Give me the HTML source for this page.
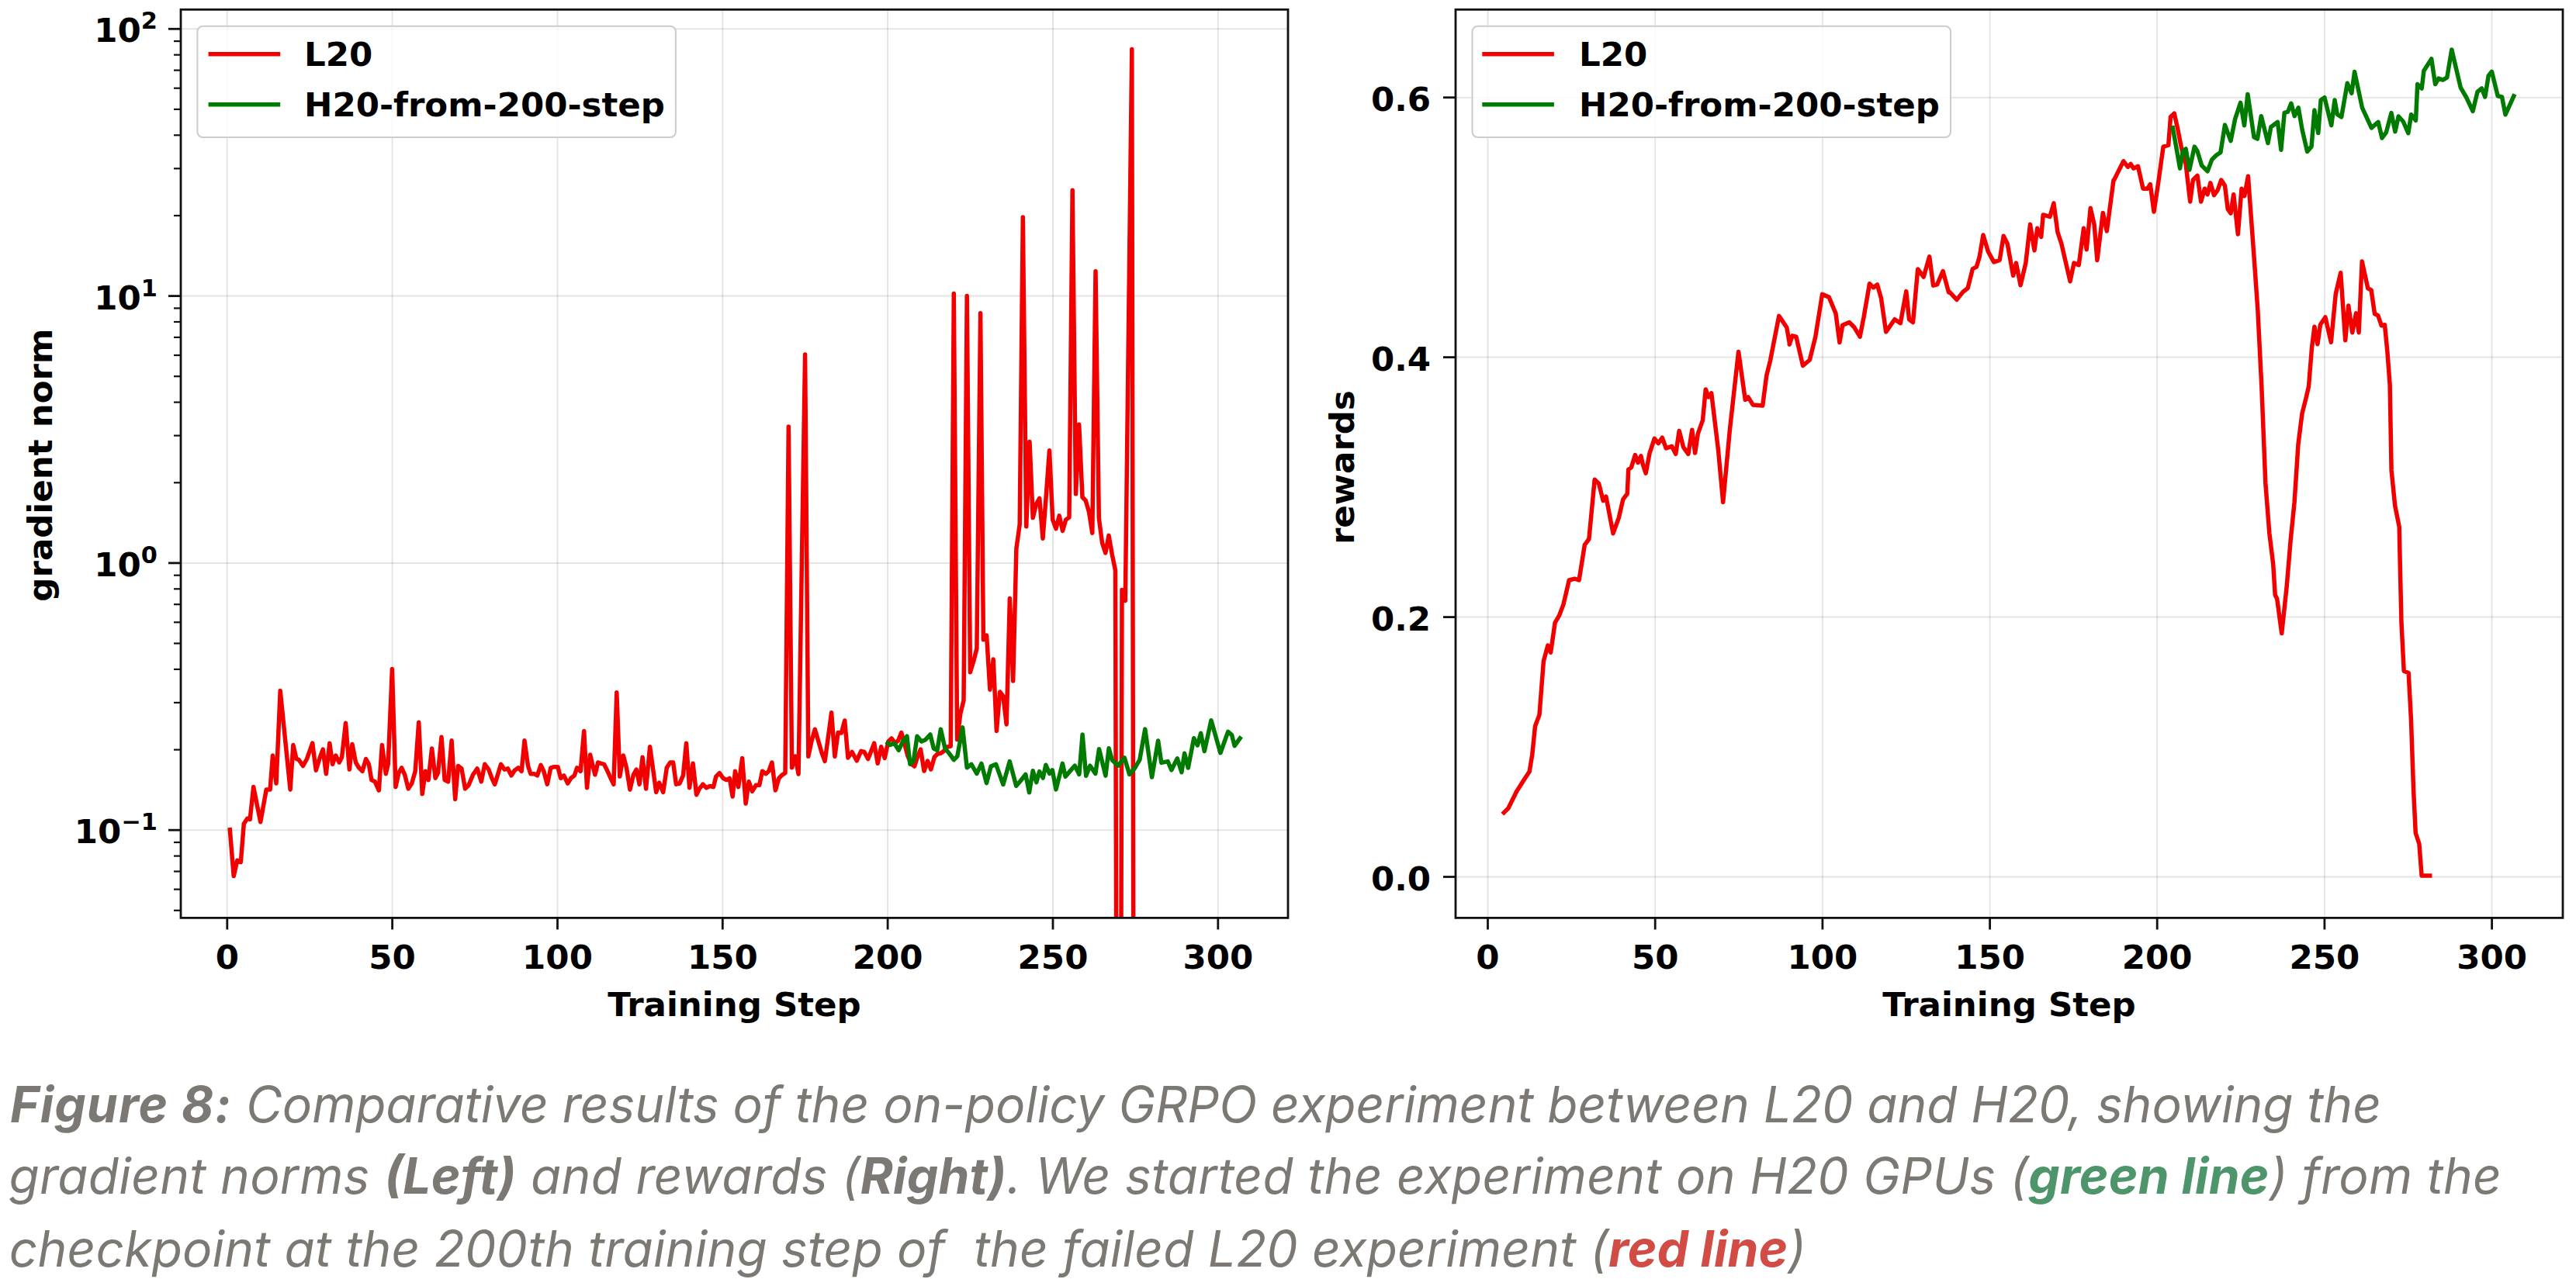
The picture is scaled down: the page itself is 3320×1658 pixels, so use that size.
<!DOCTYPE html>
<html><head><meta charset="utf-8"><title>Figure 8</title>
<style>html,body{margin:0;padding:0;background:#fff;}body{width:3320px;height:1658px;overflow:hidden;position:relative;}</style>
</head><body>
<svg width="3320" height="1658" viewBox="0 0 3320 1658" style="position:absolute;left:0;top:0"><defs><clipPath id="cl"><rect x="233.0" y="12.3" width="1427.0" height="1171.1000000000001"/></clipPath><clipPath id="cr"><rect x="1876.0" y="12.3" width="1427.0" height="1171.1000000000001"/></clipPath></defs><g stroke="#000" stroke-opacity="0.1" stroke-width="2"><line x1="292.8" y1="12.3" x2="292.8" y2="1183.4"/><line x1="1917.5" y1="12.3" x2="1917.5" y2="1183.4"/><line x1="505.6" y1="12.3" x2="505.6" y2="1183.4"/><line x1="2133.2" y1="12.3" x2="2133.2" y2="1183.4"/><line x1="718.5" y1="12.3" x2="718.5" y2="1183.4"/><line x1="2348.9" y1="12.3" x2="2348.9" y2="1183.4"/><line x1="931.3" y1="12.3" x2="931.3" y2="1183.4"/><line x1="2564.6" y1="12.3" x2="2564.6" y2="1183.4"/><line x1="1144.1" y1="12.3" x2="1144.1" y2="1183.4"/><line x1="2780.2" y1="12.3" x2="2780.2" y2="1183.4"/><line x1="1357" y1="12.3" x2="1357" y2="1183.4"/><line x1="2995.9" y1="12.3" x2="2995.9" y2="1183.4"/><line x1="1569.8" y1="12.3" x2="1569.8" y2="1183.4"/><line x1="3211.6" y1="12.3" x2="3211.6" y2="1183.4"/><line x1="233.0" y1="37.3" x2="1660.0" y2="37.3"/><line x1="233.0" y1="381.6" x2="1660.0" y2="381.6"/><line x1="233.0" y1="725.9" x2="1660.0" y2="725.9"/><line x1="233.0" y1="1070.2" x2="1660.0" y2="1070.2"/><line x1="1876.0" y1="1130.5" x2="3303.0" y2="1130.5"/><line x1="1876.0" y1="795.6" x2="3303.0" y2="795.6"/><line x1="1876.0" y1="460.6" x2="3303.0" y2="460.6"/><line x1="1876.0" y1="125.7" x2="3303.0" y2="125.7"/></g><polyline points="296.3,1069.8 301.2,1129.6 305.7,1109.3 310.3,1111.6 314.3,1062 318.8,1055.2 322.2,1056.3 326.7,1014.6 335.7,1059.7 343.2,1018 348.1,1018 351.5,974 356,1010.1 361.2,890.6 374.1,1018 377.9,960.5 382,978.5 385.3,979.7 390.5,987.5 395.5,978.5 402.7,958.2 407.2,993.2 412.4,976.3 416.2,966.1 420.3,997.7 424.8,958.2 428.6,985.3 432.7,974 437.2,983 440.6,976.3 445.5,932.3 450.3,992.1 454,959.4 458.5,983 462.6,989.8 467.1,994.3 471.6,978.5 475.4,985.3 478.8,1005.6 483.3,1007.8 488.3,1019.1 492.4,960.5 497.3,997.7 500.2,985.3 505.4,862.4 509.9,1014.6 513.8,996.6 517.6,989.8 521.7,998.8 526.2,1016.9 530.7,1010.1 535.2,994.3 539.7,931.2 544.2,1023.6 548.3,994.3 552.1,1005.6 556.6,965 561.1,1003.3 564.5,996.6 569,950.3 573.1,1005.6 577.6,1007.8 582.1,954.8 586.6,1030.4 590.4,987.5 594.9,990.9 599.5,1016.9 604,1012.3 609.6,998.8 615.1,990.9 620.3,1007.8 624.8,985.3 629.8,992.1 633.9,1003.3 637.7,1011.2 642.2,996.6 645.6,985.3 650.1,992.1 654.6,990.9 659.1,999.9 663.2,993.2 668.1,989.8 672.2,994.3 676,954.8 680.5,987.5 683.9,997.7 688.4,997.7 692.5,999.9 697,986.4 700.8,994.3 705.3,1011.2 709.8,989.8 714.4,988.7 718.9,988.7 722.7,1003.3 726.8,999.9 731.7,1010.1 735.8,1003.3 740.3,999.9 743.7,989.8 748.2,994.3 752.7,942.4 756.5,1015.7 760.6,972.9 764,987.5 766.9,998.8 770.7,983 774,984.2 778.5,985.3 783,994.3 787.1,1003.3 790.9,1011.2 794.8,892.8 798.8,1001.1 803.3,974 807.4,989.8 811.9,1018 816.4,998.8 820.2,992.1 824.1,1011.2 828.1,976.3 832.6,1016.9 837.6,962.7 841.7,992.1 845.7,1021.4 849.6,1009 854.7,1021.4 859.3,989.8 863.8,983 867.6,983 871.4,1011.2 875.9,1010.1 880.4,999.9 884.5,958.2 888.6,1015.7 893.1,984.2 897.6,1024.7 901.4,1016.9 905.9,1011.2 910.4,1015.7 914.9,1013.5 919.5,1014.6 922.8,1001.1 927.3,996.6 931.9,1003.3 936.3,1005.6 940.3,1003.3 944.2,1027 947.5,994.3 951.6,1014.6 956.6,977.4 961.1,1036 965.1,1007.8 969.6,1020.2 974.2,1012.3 978.7,1012.3 982.5,994.3 987,997.7 990.8,994.3 994.9,983 999.4,1019.1 1003.9,1003.3 1008.4,998.8 1012,996.7 1016.3,550 1020.6,989.8 1024.8,975 1029.1,998 1037.6,457 1041.8,975.3 1046.1,955 1050.3,940.2 1054.6,955 1058.9,970 1063.1,981.3 1067.4,950 1071.6,918.8 1075.9,975.3 1080.1,944.5 1084.4,945 1088.7,929 1092.9,977 1098.1,969.5 1104.2,980.8 1109.8,968.4 1113.9,969.5 1118.8,978.5 1126.7,958.2 1131.2,984.2 1135.7,962.7 1140.2,977.4 1144.8,956 1149,952 1153.5,958 1157.5,955 1161.7,944.5 1166,960 1170,975 1174.3,985 1178.6,988 1182.8,975 1186.5,966 1191,994 1195.5,981 1199.8,992 1204.3,976 1208.3,972 1212.8,971 1216.8,968 1220.8,963 1225.3,962 1229.3,378.6 1233.6,953.6 1237.8,920 1242,903.2 1246.2,381.4 1250.4,866.8 1254.7,852.8 1258.9,836 1263.6,403.8 1267.4,824.8 1271.6,819.2 1275.9,889.2 1280.2,850 1284.4,942.4 1288.7,892 1292.9,897.6 1297.2,934 1301.4,771.6 1305.7,878 1309.9,707.2 1314.2,676.4 1318.3,280 1322.7,678.8 1327,569.6 1331.2,667.6 1335.5,650 1339.7,642.4 1344,694.2 1348.2,640 1352.5,580.8 1356.7,670 1361,681.6 1365.2,664.8 1369.5,684.4 1373.7,670 1378,667 1382.2,245.2 1386.5,636.8 1390.7,547.2 1395,641 1399.2,645.2 1403.5,660 1407.8,687.2 1412,349.7 1416.3,668 1420.5,700 1424.8,712.8 1429,690.4 1433.3,715 1437.5,735.2 1441.8,2600 1446,760.4 1450.3,774.4 1458.8,63.6 1463,2600" fill="none" stroke="#f20000" stroke-width="5.5" stroke-linejoin="round" stroke-linecap="square" clip-path="url(#cl)"/><polyline points="1144.3,958 1147,960.5 1152.6,958.2 1158.3,967.2 1163.5,956 1168.9,949.2 1172.9,985.3 1177.4,980.8 1182,949.2 1187.6,956 1192.8,953.7 1198.9,947 1203.4,965 1207.9,967.2 1212.4,940.2 1218,965 1223.7,971.8 1229.3,979.7 1233.8,975.1 1240.6,937.9 1246.2,989.8 1251.9,985.3 1258.9,997.4 1264.9,984.4 1271.5,1009.6 1277.1,988.1 1283.6,985.3 1292.9,1011.4 1301.3,981.6 1309.7,1013.3 1315.3,1006.8 1321.8,998.4 1326.5,1021.7 1331.2,993.7 1335.8,1008.6 1339.6,994.6 1344.2,1003 1347.9,986.2 1352.6,997.4 1356.3,992.8 1361,1017.9 1369.4,984.4 1373.1,1001.2 1378.7,994.6 1385.3,987.2 1390.9,998.4 1395.1,947.1 1399.7,1000.2 1404.9,987.2 1411.8,997.4 1416.5,965.7 1424.9,1000.2 1429.1,964.8 1433.3,979.7 1440.8,987.2 1449.2,976.9 1455.7,998.4 1462.2,990.9 1468.8,979.7 1475.8,940.1 1484.6,1002.1 1492.6,955 1496.8,983.4 1505.1,981.6 1509.8,992.8 1517.3,977.8 1522.9,995.6 1526.6,971.3 1531.3,990 1538.7,951.7 1543.4,961 1547.6,945.2 1552.3,968.5 1561,928.7 1572.9,970.7 1582.7,943.4 1587.6,947.6 1591.1,961.6 1598.1,951.8" fill="none" stroke="#007a00" stroke-width="5.5" stroke-linejoin="round" stroke-linecap="square" clip-path="url(#cl)"/><polyline points="1938.3,1047.7 1943.8,1042.3 1954.7,1020.3 1963.9,1005.7 1971.2,994.7 1974.8,972.8 1978.5,936.3 1984,921.6 1989.4,852.2 1994.9,832.1 1998.6,841.2 2004.1,802.9 2009.5,793.7 2015,779.1 2022.3,748 2029.6,746.2 2035.1,748 2042.4,702.3 2047.9,695 2055.2,618.3 2060.7,623.8 2066.2,645.7 2069.9,640.2 2079,687.7 2086.3,667.6 2091.8,643.9 2097.3,636.5 2098.7,605.2 2102.4,602.7 2107.4,586.6 2111.2,596.5 2114.9,587.8 2117.4,599 2121.1,610.2 2126.1,584.1 2132.3,565.4 2137.3,571.6 2142.3,564.2 2147.2,577.9 2154.7,575.4 2159.7,585.3 2164.2,555.5 2169.6,576.6 2175.9,585.3 2180.8,554.2 2184.6,584.1 2188.3,559.2 2194.5,541.8 2198.3,502 2202,511.9 2205.7,506.9 2214.4,579.1 2220.7,647.5 2229.4,554.2 2240.6,453.4 2249.3,515.6 2253,511.9 2259.2,521.9 2271.7,523.1 2276.7,484.5 2281.6,464.6 2292.8,407.4 2302.8,422.3 2306.5,443.5 2306.2,444.1 2310,432.9 2314.9,434.1 2323.6,471.5 2332.4,464 2339.8,434.1 2348.5,379.4 2357.2,383.1 2366,404.3 2370.9,441.6 2374.7,419.2 2383.4,415.5 2389.6,421.7 2397.1,434.1 2402,409.2 2409.5,365.7 2414.5,370.7 2419.5,366.9 2424.4,384.4 2430.7,427.9 2441.9,411.7 2449.3,416.7 2456.8,375.6 2460.5,411.7 2465.5,415.5 2471.7,347 2479.2,357 2486.7,330.8 2491.6,368.2 2496.6,366.9 2504.1,349.5 2511.5,376.9 2512.5,376.4 2521.9,386.4 2529.9,376.4 2536.1,371.5 2542.4,346.6 2547.3,344.1 2551.1,331.6 2556,303 2562.3,324.2 2569.7,337.9 2577.2,335.4 2582.2,304.3 2587.2,314.2 2594.6,355.3 2598.4,339.1 2604.1,367.7 2610.8,339.1 2616.5,289.3 2622,322.9 2625.7,294.3 2630.7,305.5 2633.2,276.9 2641.9,279.4 2646.9,262 2651.9,299.3 2656.8,314.2 2668,362.7 2673,339.1 2679.2,341.6 2685.5,294.3 2689.2,321.7 2694.2,268.2 2699.1,289.3 2702.9,335.4 2710.3,274.4 2715.3,298 2724,232.1 2724.7,232 2728.4,224.6 2736.8,207.8 2742.4,215.2 2746.1,211.5 2749.9,217.1 2755.5,214.3 2762,243.2 2767.6,243.2 2771.3,237.6 2776,273.1 2781.6,235.8 2788.1,189.1 2794.7,187.2 2797.5,150.8 2802.2,146.1 2806.8,166.7 2811.5,190.9 2817.1,211.5 2822.7,260 2826.4,232 2832,226.4 2836.7,260 2841.4,243.2 2845.1,250.7 2848.8,235.8 2853.5,251.6 2858.2,245.1 2862.8,232 2867.5,239.5 2871.2,269.4 2875,275 2878.7,250.7 2884.3,302 2889,243.2 2892.7,252.6 2897.4,227.3 2904.9,329.3 2909.8,398.9 2914.8,498.4 2919.8,622.7 2924.8,687.3 2929.7,727.1 2932.2,766.9 2934.7,771.9 2940.7,816.6 2947.1,756.9 2952.1,697.3 2957.1,647.5 2962,572.9 2967,533.2 2972,513.3 2975.5,498.4 2979.5,448.6 2982.9,421.3 2986.9,443.7 2990.4,418.8 2996.9,408.9 3004.3,441.2 3010.3,379 3016.7,351.7 3022.7,438.7 3026.7,393.9 3031.7,428.7 3036.6,403.9 3040.1,428.7 3044.2,337 3051.8,371.8 3056.1,374 3060.5,404.5 3064.8,406.7 3069.2,419.7 3073.5,418.7 3076.8,452.4 3080.1,496 3082.1,605.9 3086.7,651.8 3092.2,679.3 3093.6,743.6 3095,803.2 3098.2,865.2 3104.2,867.5 3107.4,927.1 3110.6,1018.9 3113.3,1074 3117.9,1087.8 3121.1,1129.1 3131.7,1129.1" fill="none" stroke="#f20000" stroke-width="5.5" stroke-linejoin="round" stroke-linecap="square" clip-path="url(#cr)"/><polyline points="2800.3,164.8 2809.6,217.1 2813.4,194.7 2817.1,191.9 2821.8,219 2828.3,189.1 2832,194.7 2837.6,213.4 2845.1,220.8 2850.7,205.9 2856.3,200.3 2861.9,196.5 2867.5,161.1 2875,181.6 2880.6,153.6 2887.6,132.3 2892.5,161.7 2896.9,121.4 2905,176.9 2909.4,179.1 2914.3,149.7 2923,184.5 2926.8,163.8 2935.5,157.3 2939.9,193.2 2944.2,145.3 2948.6,144.2 2952.9,133.3 2957.3,149.7 2962.2,138.8 2967.1,167.1 2973.6,195.4 2979.1,188.9 2982.9,142.1 2987.8,171.5 2991.1,129 2995.9,125.7 3004.7,161.7 3009,129 3012.3,147.5 3017.7,150.8 3025.3,107.2 3030.8,120.3 3034.6,92.5 3044.4,138.8 3056.4,164.9 3065.1,157.3 3070,178 3075.4,170.6 3082,145.6 3086.9,169.6 3091.2,150 3097.2,156.5 3103.8,171.7 3107.6,147.8 3113.5,155.4 3115.7,108.6 3121.2,114 3123.9,91.2 3133.7,75.9 3138.6,108.6 3142.9,101 3148.4,103.1 3153.8,99.9 3159.8,64 3171.3,112.9 3178.9,126 3187,143.4 3193,118.4 3198.5,114 3202.8,124.9 3207.2,97.7 3211.5,92.3 3219.2,123.8 3224.6,124.9 3229,147.8 3239.8,123.8" fill="none" stroke="#007a00" stroke-width="5.5" stroke-linejoin="round" stroke-linecap="square" clip-path="url(#cr)"/><rect x="254.4" y="33.7" width="616.5" height="143.3" rx="7" ry="7" fill="#fff" fill-opacity="0.8" stroke="#cccccc" stroke-width="2"/><line x1="268.6" y1="69.7" x2="361.20000000000005" y2="69.7" stroke="#f20000" stroke-width="5.5"/><line x1="268.6" y1="134.8" x2="361.20000000000005" y2="134.8" stroke="#007a00" stroke-width="5.5"/><text x="392" y="85.1" style="font-family:'DejaVu Sans',sans-serif;font-weight:bold;font-size:43.5px">L20</text><text x="392" y="149.7" style="font-family:'DejaVu Sans',sans-serif;font-weight:bold;font-size:43.5px">H20-from-200-step</text><rect x="1897.5" y="33.7" width="616.5" height="143.3" rx="7" ry="7" fill="#fff" fill-opacity="0.8" stroke="#cccccc" stroke-width="2"/><line x1="1910.3" y1="69.7" x2="2002.8999999999999" y2="69.7" stroke="#f20000" stroke-width="5.5"/><line x1="1910.3" y1="134.8" x2="2002.8999999999999" y2="134.8" stroke="#007a00" stroke-width="5.5"/><text x="2035" y="85.1" style="font-family:'DejaVu Sans',sans-serif;font-weight:bold;font-size:43.5px">L20</text><text x="2035" y="149.7" style="font-family:'DejaVu Sans',sans-serif;font-weight:bold;font-size:43.5px">H20-from-200-step</text><rect x="233.0" y="12.3" width="1427.0" height="1171.1000000000001" fill="none" stroke="#111" stroke-width="2.8"/><rect x="1876.0" y="12.3" width="1427.0" height="1171.1000000000001" fill="none" stroke="#111" stroke-width="2.8"/><g stroke="#111" stroke-width="2.8"><line x1="292.8" y1="1183.4" x2="292.8" y2="1198.4"/><line x1="1917.5" y1="1183.4" x2="1917.5" y2="1198.4"/><line x1="505.6" y1="1183.4" x2="505.6" y2="1198.4"/><line x1="2133.2" y1="1183.4" x2="2133.2" y2="1198.4"/><line x1="718.5" y1="1183.4" x2="718.5" y2="1198.4"/><line x1="2348.9" y1="1183.4" x2="2348.9" y2="1198.4"/><line x1="931.3" y1="1183.4" x2="931.3" y2="1198.4"/><line x1="2564.6" y1="1183.4" x2="2564.6" y2="1198.4"/><line x1="1144.1" y1="1183.4" x2="1144.1" y2="1198.4"/><line x1="2780.2" y1="1183.4" x2="2780.2" y2="1198.4"/><line x1="1357" y1="1183.4" x2="1357" y2="1198.4"/><line x1="2995.9" y1="1183.4" x2="2995.9" y2="1198.4"/><line x1="1569.8" y1="1183.4" x2="1569.8" y2="1198.4"/><line x1="3211.6" y1="1183.4" x2="3211.6" y2="1198.4"/><line x1="217.0" y1="37.3" x2="233.0" y2="37.3"/><line x1="217.0" y1="381.6" x2="233.0" y2="381.6"/><line x1="217.0" y1="725.9" x2="233.0" y2="725.9"/><line x1="217.0" y1="1070.2" x2="233.0" y2="1070.2"/><line x1="1860.0" y1="1130.5" x2="1876.0" y2="1130.5"/><line x1="1860.0" y1="795.6" x2="1876.0" y2="795.6"/><line x1="1860.0" y1="460.6" x2="1876.0" y2="460.6"/><line x1="1860.0" y1="125.7" x2="1876.0" y2="125.7"/></g><g stroke="#111" stroke-width="2.2"><line x1="224.0" y1="1173.8" x2="233.0" y2="1173.8"/><line x1="224.0" y1="1146.6" x2="233.0" y2="1146.6"/><line x1="224.0" y1="1123.5" x2="233.0" y2="1123.5"/><line x1="224.0" y1="1103.6" x2="233.0" y2="1103.6"/><line x1="224.0" y1="1086" x2="233.0" y2="1086"/><line x1="224.0" y1="966.6" x2="233.0" y2="966.6"/><line x1="224.0" y1="905.9" x2="233.0" y2="905.9"/><line x1="224.0" y1="862.9" x2="233.0" y2="862.9"/><line x1="224.0" y1="829.5" x2="233.0" y2="829.5"/><line x1="224.0" y1="802.3" x2="233.0" y2="802.3"/><line x1="224.0" y1="779.2" x2="233.0" y2="779.2"/><line x1="224.0" y1="759.3" x2="233.0" y2="759.3"/><line x1="224.0" y1="741.7" x2="233.0" y2="741.7"/><line x1="224.0" y1="622.3" x2="233.0" y2="622.3"/><line x1="224.0" y1="561.6" x2="233.0" y2="561.6"/><line x1="224.0" y1="518.6" x2="233.0" y2="518.6"/><line x1="224.0" y1="485.2" x2="233.0" y2="485.2"/><line x1="224.0" y1="458" x2="233.0" y2="458"/><line x1="224.0" y1="434.9" x2="233.0" y2="434.9"/><line x1="224.0" y1="415" x2="233.0" y2="415"/><line x1="224.0" y1="397.4" x2="233.0" y2="397.4"/><line x1="224.0" y1="278" x2="233.0" y2="278"/><line x1="224.0" y1="217.3" x2="233.0" y2="217.3"/><line x1="224.0" y1="174.3" x2="233.0" y2="174.3"/><line x1="224.0" y1="140.9" x2="233.0" y2="140.9"/><line x1="224.0" y1="113.7" x2="233.0" y2="113.7"/><line x1="224.0" y1="90.6" x2="233.0" y2="90.6"/><line x1="224.0" y1="70.7" x2="233.0" y2="70.7"/><line x1="224.0" y1="53.1" x2="233.0" y2="53.1"/></g><g style="font-family:'DejaVu Sans',sans-serif;font-weight:bold;font-size:43.5px" fill="#000"><text x="292.8" y="1249.2" text-anchor="middle">0</text><text x="1917.5" y="1249.2" text-anchor="middle">0</text><text x="505.6" y="1249.2" text-anchor="middle">50</text><text x="2133.2" y="1249.2" text-anchor="middle">50</text><text x="718.5" y="1249.2" text-anchor="middle">100</text><text x="2348.9" y="1249.2" text-anchor="middle">100</text><text x="931.3" y="1249.2" text-anchor="middle">150</text><text x="2564.6" y="1249.2" text-anchor="middle">150</text><text x="1144.1" y="1249.2" text-anchor="middle">200</text><text x="2780.2" y="1249.2" text-anchor="middle">200</text><text x="1357" y="1249.2" text-anchor="middle">250</text><text x="2995.9" y="1249.2" text-anchor="middle">250</text><text x="1569.8" y="1249.2" text-anchor="middle">300</text><text x="3211.6" y="1249.2" text-anchor="middle">300</text><text x="1844" y="1148.1" text-anchor="end">0.0</text><text x="1844" y="813.2" text-anchor="end">0.2</text><text x="1844" y="478.2" text-anchor="end">0.4</text><text x="1844" y="143.3" text-anchor="end">0.6</text><text x="203" y="54.3" text-anchor="end">10<tspan dy="-17" style="font-size:30.4px">2</tspan></text><text x="203" y="398.6" text-anchor="end">10<tspan dy="-17" style="font-size:30.4px">1</tspan></text><text x="203" y="742.9" text-anchor="end">10<tspan dy="-17" style="font-size:30.4px">0</tspan></text><text x="203" y="1087.2" text-anchor="end">10<tspan dy="-17" style="font-size:30.4px">−1</tspan></text></g><g style="font-family:'DejaVu Sans',sans-serif;font-weight:bold;font-size:43.5px" fill="#000"><text x="946.5" y="1309.6" text-anchor="middle">Training Step</text><text x="2589.5" y="1309.6" text-anchor="middle">Training Step</text><text transform="translate(67.3,599.7) rotate(-90)" text-anchor="middle">gradient norm</text><text transform="translate(1744.8,602.6) rotate(-90)" text-anchor="middle">rewards</text></g></svg><svg width="3320" height="1658" viewBox="0 0 3320 1658" style="position:absolute;left:0;top:0"><text x="13" y="1446.6" textLength="3056" lengthAdjust="spacing" style="font-family:Inter,'DejaVu Sans',sans-serif;font-style:italic;font-size:64px" fill="#7c7974"><tspan font-weight="bold" letter-spacing="1.2">Figure 8:</tspan> Comparative results of the on-policy GRPO experiment between L20 and H20, showing the</text><text x="11.4" y="1538.6" textLength="3212.5" lengthAdjust="spacing" style="font-family:Inter,'DejaVu Sans',sans-serif;font-style:italic;font-size:64px" fill="#7c7974">gradient norms <tspan font-weight="bold">(Left)</tspan> and rewards (<tspan font-weight="bold">Right)</tspan>. We started the experiment on H20 GPUs (<tspan font-weight="bold" fill="#4f956b">green line</tspan>) from the</text><text x="11.8" y="1633" textLength="2316" lengthAdjust="spacing" style="font-family:Inter,'DejaVu Sans',sans-serif;font-style:italic;font-size:64px" fill="#7c7974">checkpoint at the 200th training step of&#160; the failed L20 experiment (<tspan font-weight="bold" fill="#d14c45">red line</tspan>)</text></svg>
</body></html>
